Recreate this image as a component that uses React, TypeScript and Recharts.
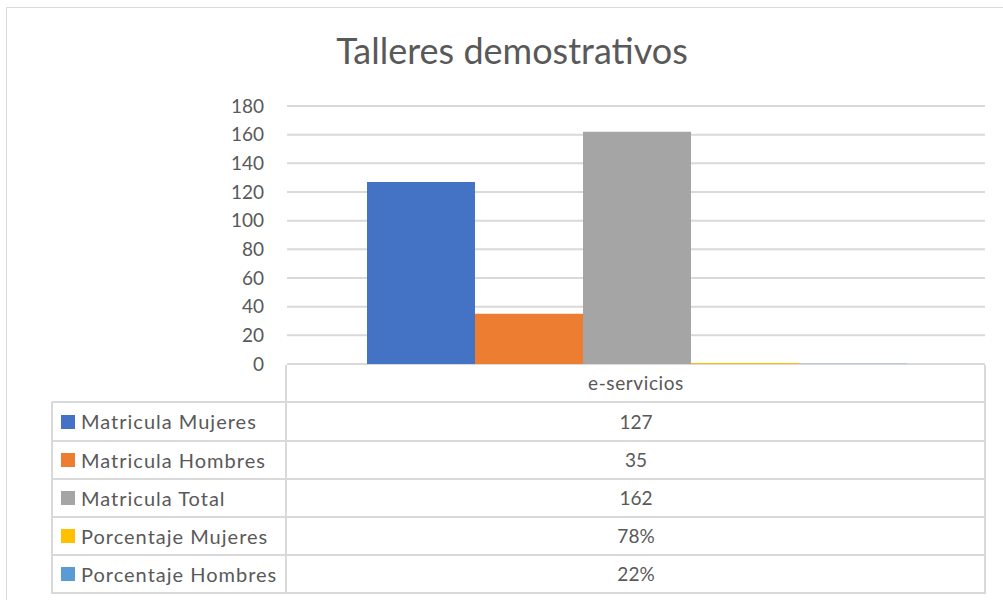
import { BarChart, Bar, XAxis, YAxis, CartesianGrid } from 'recharts';

const categories = ['e-servicios'];
const seriesNames = [
  'Matricula Mujeres',
  'Matricula Hombres',
  'Matricula Total',
  'Porcentaje Mujeres',
  'Porcentaje Hombres',
];
const seriesColors = ['#4472C4', '#ED7D31', '#A5A5A5', '#FFC000', '#5B9BD5'];
const seriesValues = [127, 35, 162, 0.78, 0.22];
const tableLabels = ['127', '35', '162', '78%', '22%'];
const yTicks = [0, 20, 40, 60, 80, 100, 120, 140, 160, 180];

const data = categories.map((name) => {
  const row: { [key: string]: string | number } = { name };
  seriesValues.forEach((v, i) => {
    row['s' + i] = v;
  });
  return row;
});

const TEXT = '#595959';
const LINE = '#d9d9d9';
const FONT = 'Lato, "Open Sans", sans-serif';

// table geometry
const plotLeft = 287;
const plotRight = 985;
const tableLeft = 52;
const headerTop = 364;
const rowTops = [402, 441, 479, 517, 555, 593];

function HLine({ x1, x2, y }: { x1: number; x2: number; y: number }) {
  return (
    <div
      style={{ position: 'absolute', left: x1, top: y - 1, width: x2 - x1, height: 2, background: LINE }}
    />
  );
}

function VLine({ x, y1, y2 }: { x: number; y1: number; y2: number }) {
  return (
    <div
      style={{ position: 'absolute', left: x - 1, top: y1, width: 2, height: y2 - y1, background: LINE }}
    />
  );
}

export default function App() {
  const bottom = rowTops[rowTops.length - 1];
  return (
    <div
      style={{
        position: 'absolute',
        left: 0,
        top: 0,
        width: 1003,
        height: 600,
        overflow: 'hidden',
        background: '#fff',
        fontFamily: FONT,
        color: TEXT,
      }}
    >
      <div
        style={{
          position: 'absolute',
          left: 6,
          top: 7,
          width: 1100,
          height: 700,
          border: '1.5px solid ' + LINE,
        }}
      />
      <div
        style={{
          position: 'absolute',
          left: 0,
          width: 1024,
          top: 25,
          textAlign: 'center',
          fontSize: 36,
          lineHeight: '50px',
        }}
      >
        Talleres demostrativos
      </div>
      <div style={{ position: 'absolute', left: 0, top: 0 }}>
        <BarChart
          width={1003}
          height={600}
          data={data}
          margin={{ top: 106, right: 1003 - plotRight, bottom: 600 - headerTop, left: plotLeft - 60 }}
          barCategoryGap={80}
          barGap={0}
        >
          <CartesianGrid vertical={false} stroke={LINE} strokeWidth={2} />
          <XAxis dataKey="name" hide />
          <YAxis
            width={60}
            domain={[0, 180]}
            ticks={yTicks}
            axisLine={false}
            tickLine={false}
            tickSize={0}
            tickMargin={23}
            tick={{ fill: TEXT, fontSize: 19, fontFamily: FONT }}
          />
          {seriesValues.map((_, i) => (
            <Bar key={i} dataKey={'s' + i} name={seriesNames[i]} fill={seriesColors[i]} isAnimationActive={false} />
          ))}
        </BarChart>
      </div>

      {/* data table */}
      <VLine x={plotLeft - 1} y1={headerTop + 1} y2={bottom + 1} />
      <VLine x={plotRight} y1={headerTop + 1} y2={bottom + 1} />
      <VLine x={tableLeft} y1={rowTops[0]} y2={bottom + 1} />
      {rowTops.map((y) => (
        <HLine key={y} x1={tableLeft} x2={plotRight + 1} y={y} />
      ))}
      <div
        style={{
          position: 'absolute',
          left: plotLeft,
          width: plotRight - plotLeft,
          top: headerTop,
          height: rowTops[0] - headerTop,
          lineHeight: rowTops[0] - headerTop + 'px',
          textAlign: 'center',
          fontSize: 19,
          letterSpacing: 0.6,
        }}
      >
        {categories[0]}
      </div>
      {seriesNames.map((name, i) => {
        const top = rowTops[i];
        const h = rowTops[i + 1] - top;
        return (
          <div key={name}>
            <div
              style={{
                position: 'absolute',
                left: 61,
                top: top + h / 2 - 7,
                width: 14,
                height: 14,
                background: seriesColors[i],
              }}
            />
            <div
              style={{
                position: 'absolute',
                left: 81,
                top,
                height: h,
                lineHeight: h + 'px',
                fontSize: 20,
                letterSpacing: 1,
                whiteSpace: 'nowrap',
              }}
            >
              {name}
            </div>
            <div
              style={{
                position: 'absolute',
                left: plotLeft,
                width: plotRight - plotLeft,
                top,
                height: h,
                lineHeight: h + 'px',
                textAlign: 'center',
                fontSize: 19,
              }}
            >
              {tableLabels[i]}
            </div>
          </div>
        );
      })}
    </div>
  );
}
